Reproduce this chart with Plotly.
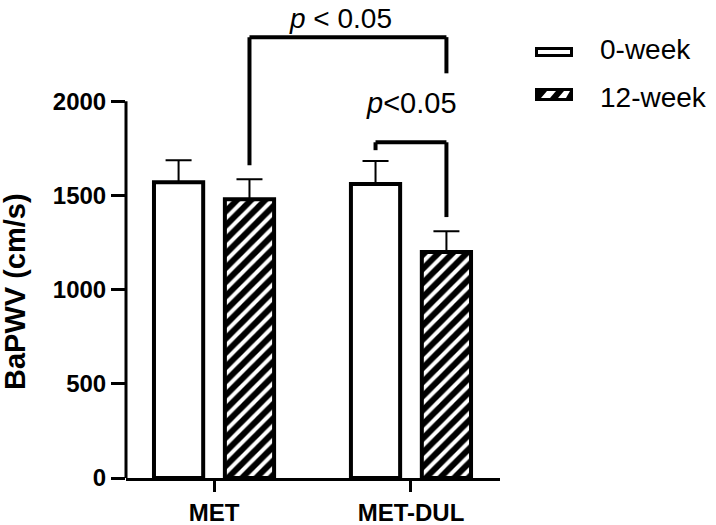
import plotly.graph_objects as go

# ---- data ----
categories = ["MET", "MET-DUL"]
series_names = ["0-week", "12-week"]
week0_mean = [1570, 1560]
week0_sd = [117, 122]
week12_mean = [1480, 1200]
week12_sd = [106, 110]
y_tick_vals = [0, 500, 1000, 1500, 2000]
y_title = "BaPWV (cm/s)"
p_labels = ["<i>p</i> < 0.05", "<i>p</i><0.05"]

# significance bracket levels (data units)
big_bracket = {"left_bottom": 1660, "top": 2340, "right_bottom": 2148}
small_bracket = {"left_bottom": 1740, "top": 1782, "right_bottom": 1385}
p_label_y = [2440, 1989]
p_label_x = [0.64, 1.005]

# ---- layout geometry ----
W, H = 716, 525
L, R, T, B = 126, 216, 7, 47
PW, PH = W - L - R, H - T - B
BARGAP = 0.28
BARGROUPGAP = 0.306
slot = (1 - BARGAP) / 2
off = slot / 2

FONT = "Liberation Sans, Arial, Helvetica, sans-serif"


def pxx(x):
    return (x - L) / PW


def pxy(y):
    return (T + PH - y) / PH


fig = go.Figure()
fig.add_trace(go.Bar(
    name=series_names[0], x=categories, y=week0_mean,
    marker=dict(color="white", line=dict(color="black", width=4)),
    error_y=dict(type="data", symmetric=False, array=week0_sd,
                 arrayminus=[0] * len(week0_sd), color="black",
                 thickness=2, width=13),
    showlegend=False,
))
fig.add_trace(go.Bar(
    name=series_names[1], x=categories, y=week12_mean,
    marker=dict(color="black", line=dict(color="black", width=4),
                pattern=dict(shape="/", bgcolor="black", fgcolor="white",
                             fgopacity=1, size=10, solidity=0.4,
                             fillmode="replace")),
    error_y=dict(type="data", symmetric=False, array=week12_sd,
                 arrayminus=[0] * len(week12_sd), color="black",
                 thickness=2, width=13),
    showlegend=False,
))

shapes = []
# y axis line only up to 2000
shapes.append(dict(type="line", xref="paper", yref="y", x0=0, x1=0,
                   y0=0, y1=y_tick_vals[-1], line=dict(color="black", width=3)))

bl = dict(color="black", width=4)
# big bracket: MET 12-week -> MET-DUL 12-week
xa = 0 + off
xb = 1 + off
shapes += [
    dict(type="line", xref="x", yref="y", x0=xa, x1=xa,
         y0=big_bracket["left_bottom"], y1=big_bracket["top"], line=bl),
    dict(type="line", xref="x", yref="y", x0=xa, x1=xb,
         y0=big_bracket["top"], y1=big_bracket["top"], line=bl),
    dict(type="line", xref="x", yref="y", x0=xb, x1=xb,
         y0=big_bracket["top"], y1=big_bracket["right_bottom"], line=bl),
]
# small bracket: MET-DUL 0-week -> MET-DUL 12-week
xc = 1 - off
shapes += [
    dict(type="line", xref="x", yref="y", x0=xc, x1=xc,
         y0=small_bracket["left_bottom"], y1=small_bracket["top"], line=bl),
    dict(type="line", xref="x", yref="y", x0=xc, x1=xb,
         y0=small_bracket["top"], y1=small_bracket["top"], line=bl),
    dict(type="line", xref="x", yref="y", x0=xb, x1=xb,
         y0=small_bracket["top"], y1=small_bracket["right_bottom"], line=bl),
]

# custom legend symbols
shapes.append(dict(type="rect", xref="paper", yref="paper",
                   x0=pxx(536.5), x1=pxx(571.5), y0=pxy(55.5), y1=pxy(48.5),
                   fillcolor="white", line=dict(color="black", width=3)))
shapes.append(dict(type="rect", xref="paper", yref="paper",
                   x0=pxx(535), x1=pxx(573), y0=pxy(101), y1=pxy(88),
                   fillcolor="black", line=dict(width=0)))
for (b0, b1, t0, t1) in [(541, 550, 547, 556), (558, 566, 564, 570)]:
    path = "M {:.4f},{:.4f} L {:.4f},{:.4f} L {:.4f},{:.4f} L {:.4f},{:.4f} Z".format(
        pxx(b0), pxy(98), pxx(b1), pxy(98), pxx(t1), pxy(91), pxx(t0), pxy(91))
    shapes.append(dict(type="path", xref="paper", yref="paper", path=path,
                       fillcolor="white", line=dict(width=0)))

annotations = [
    dict(x=p_label_x[0], y=p_label_y[0], xref="x", yref="y", text=p_labels[0],
         showarrow=False, font=dict(size=28, color="black", family=FONT),
         xanchor="center", yanchor="middle"),
    dict(x=p_label_x[1], y=p_label_y[1], xref="x", yref="y", text=p_labels[1],
         showarrow=False, font=dict(size=29, color="black", family=FONT),
         xanchor="center", yanchor="middle"),
    dict(x=pxx(598), y=pxy(50), xref="paper", yref="paper", text=series_names[0],
         showarrow=False, font=dict(size=28, color="black", family=FONT),
         xanchor="left", yanchor="middle"),
    dict(x=pxx(598), y=pxy(98), xref="paper", yref="paper", text=series_names[1],
         showarrow=False, font=dict(size=28, color="black", family=FONT),
         xanchor="left", yanchor="middle"),
    # y-axis title
    dict(x=pxx(15), y=pxy(291), xref="paper", yref="paper",
         text="<b>" + y_title + "</b>", textangle=-90, showarrow=False,
         font=dict(size=29, color="black", family=FONT),
         xanchor="center", yanchor="middle"),
]

fig.update_layout(
    width=W, height=H,
    margin=dict(l=L, r=R, t=T, b=B, pad=0, autoexpand=False),
    paper_bgcolor="white", plot_bgcolor="white",
    barmode="group", bargap=BARGAP, bargroupgap=BARGROUPGAP,
    font=dict(family=FONT, color="black"),
    shapes=shapes, annotations=annotations,
    showlegend=False,
)
fig.update_xaxes(
    type="category", range=[-0.447, 1.452], automargin=False,
    showline=True, linecolor="black", linewidth=3,
    ticks="outside", ticklen=11, tickwidth=3, tickcolor="black",
    tickfont=dict(size=24, family=FONT, color="black", weight="bold"),
    showgrid=False, zeroline=False,
)
fig.update_yaxes(
    range=[0, 2500], tickvals=y_tick_vals, automargin=False,
    showline=False, ticks="outside", ticklen=14, tickwidth=3, tickcolor="black",
    tickfont=dict(size=24, family=FONT, color="black", weight="bold"),
    showgrid=False, zeroline=False,
)

fig.write_html(
    "out.html",
    config={"displayModeBar": False},
    post_script="document.body.style.margin='0';document.body.style.overflow='hidden';",
)
